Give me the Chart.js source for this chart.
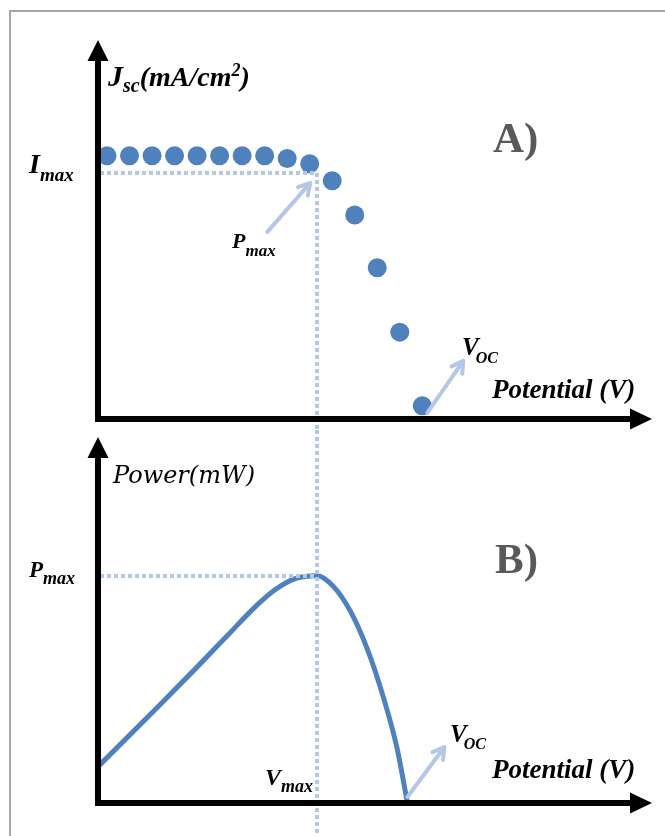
<!DOCTYPE html>
<html>
<head>
<meta charset="utf-8">
<script src="https://cdn.jsdelivr.net/npm/chart.js@4.4.1/dist/chart.umd.min.js"></script>
<style>
  html, body { margin: 0; padding: 0; background: #fff; }
  #wrap { position: relative; width: 665px; height: 836px; overflow: hidden; background: #fff; }
  #frame { position: absolute; left: 9px; top: 10px; width: 800px; height: 1000px;
           border-left: 2px solid #a6a6a6; border-top: 2px solid #a6a6a6; }
  canvas { position: absolute; left: 0; }
  #cA { top: 0; }
  #cB { top: 430px; }
</style>
</head>
<body>
<div id="wrap">
  <div id="frame"></div>
  <canvas id="cA" width="665" height="430"></canvas>
  <canvas id="cB" width="665" height="406"></canvas>
</div>
<script>
// ---- J–V curve (panel A): potential in V, current density in mA/cm2
const potentialA = [0.02, 0.07, 0.12, 0.17, 0.22, 0.27, 0.32, 0.37, 0.42, 0.47, 0.52, 0.57, 0.62, 0.67, 0.72];
const currentA   = [20.0, 20.0, 20.0, 20.0, 20.0, 20.0, 20.0, 20.0, 19.8, 19.4, 18.1, 15.5, 11.5, 6.6, 1.0];

// ---- P–V curve (panel B): potential in V, power in mW
const potentialB = [0.0, 0.142, 0.216, 0.289, 0.349, 0.393, 0.438, 0.487, 0.522, 0.560, 0.598, 0.633, 0.664, 0.687];
const powerB     = [1.6, 4.41, 5.90, 7.40, 8.63, 9.38, 9.87, 10.0, 9.54, 8.45, 6.77, 4.69, 2.41, 0.0];

// maximum power point
const V_MAX = 0.487;
const I_MAX = 18.7;
const P_MAX = 10.0;

// axis extents
const X_AXIS_MAX = 1.23;
const J_AXIS_MAX = 28.8;
const P_AXIS_MAX = 16.1;

const BLUE = '#4f81bd';
const GUIDE = '#b4c8e4';
const POINTER = '#b4c7e7';
const SERIF = '"Liberation Serif", "Times New Roman", serif';

function font(size, style) { return (style || 'italic bold') + ' ' + size + 'px ' + SERIF; }

// draws text runs left to right: [text, font, baselineOffset, kern]
function runs(ctx, x, y, parts, color) {
  ctx.save();
  ctx.fillStyle = color || '#000';
  ctx.textBaseline = 'alphabetic';
  ctx.textAlign = 'left';
  let cx = x;
  for (const [t, f, dy, dx] of parts) {
    ctx.font = f;
    cx += (dx || 0);
    ctx.fillText(t, cx, y + (dy || 0));
    cx += ctx.measureText(t).width;
  }
  ctx.restore();
}

function dotted(ctx, x1, y1, x2, y2) {
  ctx.save();
  ctx.strokeStyle = GUIDE;
  ctx.lineWidth = 4;
  ctx.lineCap = 'butt';
  ctx.setLineDash([4, 3]);
  ctx.beginPath();
  ctx.moveTo(Math.round(x1), Math.round(y1));
  ctx.lineTo(Math.round(x2), Math.round(y2));
  ctx.stroke();
  ctx.restore();
}

function pointer(ctx, x1, y1, x2, y2) {
  const a = Math.atan2(y2 - y1, x2 - x1);
  const h = 13, s = Math.PI / 6;
  ctx.save();
  ctx.strokeStyle = POINTER;
  ctx.lineWidth = 4;
  ctx.lineCap = 'round';
  ctx.lineJoin = 'round';
  ctx.beginPath();
  ctx.moveTo(x1, y1);
  ctx.lineTo(x2, y2);
  ctx.moveTo(x2 - h * Math.cos(a - s), y2 - h * Math.sin(a - s));
  ctx.lineTo(x2, y2);
  ctx.lineTo(x2 - h * Math.cos(a + s), y2 - h * Math.sin(a + s));
  ctx.stroke();
  ctx.restore();
}

// thick black axes with filled arrowheads
function axes(chart) {
  const ctx = chart.ctx;
  const { right, top } = chart.chartArea;
  const x0 = Math.round(chart.scales.x.getPixelForValue(0));
  const y0 = Math.round(chart.scales.y.getPixelForValue(0));
  ctx.save();
  ctx.fillStyle = '#000';
  ctx.fillRect(x0 - 3, top + 18, 6, y0 + 3 - (top + 18));
  ctx.fillRect(x0 - 3, y0 - 3, right - 20 - (x0 - 3), 6);
  ctx.beginPath();
  ctx.moveTo(x0, top); ctx.lineTo(x0 + 10.5, top + 21); ctx.lineTo(x0 - 10.5, top + 21); ctx.closePath();
  ctx.fill();
  ctx.beginPath();
  ctx.moveTo(right, y0); ctx.lineTo(right - 22, y0 - 10.5); ctx.lineTo(right - 22, y0 + 10.5); ctx.closePath();
  ctx.fill();
  ctx.restore();
}

const panelA = {
  id: 'panelA',
  afterDatasetsDraw(chart) {
    const ctx = chart.ctx;
    const xs = chart.scales.x, ys = chart.scales.y;
    const xV = xs.getPixelForValue(V_MAX);
    const yI = ys.getPixelForValue(I_MAX);
    const { left } = chart.chartArea;

    dotted(ctx, left + 2, yI, xV, yI);
    dotted(ctx, xV, yI, xV, chart.height);
    axes(chart);

    // P_max pointer
    pointer(ctx, xV - 50, yI + 59, xV - 7, yI + 10);
    // V_oc pointer from the last measured point
    const n = potentialA.length - 1;
    const xo = xs.getPixelForValue(potentialA[n]);
    const yo = ys.getPixelForValue(currentA[n]);
    pointer(ctx, xo + 5, yo + 7, xo + 41, yo - 45);

    runs(ctx, 108, 86, [['J', font(30)], ['sc', font(20), 6], ['(mA/cm', font(28)], ['2', font(18), -10], [')', font(28)]]);
    runs(ctx, 29, 173, [['I', font(28)], ['max', font(19), 8]]);
    runs(ctx, 232, 248, [['P', font(22)], ['max', font(17), 8]]);
    runs(ctx, 462, 355, [['V', font(25)], ['OC', font(16), 8, -3]]);
    runs(ctx, 492, 398, [['Potential (V)', font(27)]]);
    runs(ctx, 493, 152, [['A)', font(43, 'bold')]], '#595959');
  }
};

const panelB = {
  id: 'panelB',
  afterDatasetsDraw(chart) {
    const ctx = chart.ctx;
    const xs = chart.scales.x, ys = chart.scales.y;
    const xV = xs.getPixelForValue(V_MAX);
    const yP = ys.getPixelForValue(P_MAX);
    const { left } = chart.chartArea;

    dotted(ctx, left + 2, yP, xV, yP);
    dotted(ctx, xV, 0, xV, chart.height);
    axes(chart);

    const n = potentialB.length - 1;
    const xo = xs.getPixelForValue(potentialB[n]);
    const yo = ys.getPixelForValue(powerB[n]);
    pointer(ctx, xo, yo - 6, xo + 37, yo - 56);

    runs(ctx, 113, 53, [['Power(mW)', 'italic 24px "DejaVu Serif", serif']]);
    runs(ctx, 29, 147, [['P', font(23)], ['max', font(18), 7]]);
    runs(ctx, 265, 355, [['V', font(24)], ['max', font(18), 7]]);
    runs(ctx, 450, 312, [['V', font(25)], ['OC', font(16), 7, -3]]);
    runs(ctx, 492, 348, [['Potential (V)', font(27)]]);
    runs(ctx, 495, 143, [['B)', font(43, 'bold')]], '#595959');
  }
};

const common = {
  responsive: false,
  animation: false,
  devicePixelRatio: 1,
  events: [],
  plugins: { legend: { display: false }, tooltip: { enabled: false } }
};

new Chart(document.getElementById('cA'), {
  type: 'scatter',
  data: {
    datasets: [{
      data: potentialA.map((v, i) => ({ x: v, y: currentA[i] })),
      backgroundColor: BLUE,
      borderColor: BLUE,
      borderWidth: 0,
      pointRadius: 9.5,
      pointHoverRadius: 9.5,
      clip: false
    }]
  },
  options: Object.assign({}, common, {
    layout: { padding: { left: 98, right: 13, top: 40, bottom: 11 } },
    scales: {
      x: { type: 'linear', display: false, min: 0, max: X_AXIS_MAX },
      y: { type: 'linear', display: false, min: 0, max: J_AXIS_MAX }
    }
  }),
  plugins: [panelA]
});

new Chart(document.getElementById('cB'), {
  type: 'scatter',
  data: {
    datasets: [{
      data: potentialB.map((v, i) => ({ x: v, y: powerB[i] })),
      showLine: true,
      borderColor: BLUE,
      borderWidth: 5,
      pointRadius: 0,
      pointHoverRadius: 0,
      cubicInterpolationMode: 'monotone',
      clip: false
    }]
  },
  options: Object.assign({}, common, {
    layout: { padding: { left: 98, right: 13, top: 7, bottom: 33 } },
    scales: {
      x: { type: 'linear', display: false, min: 0, max: X_AXIS_MAX },
      y: { type: 'linear', display: false, min: 0, max: P_AXIS_MAX }
    }
  }),
  plugins: [panelB]
});
</script>
</body>
</html>
